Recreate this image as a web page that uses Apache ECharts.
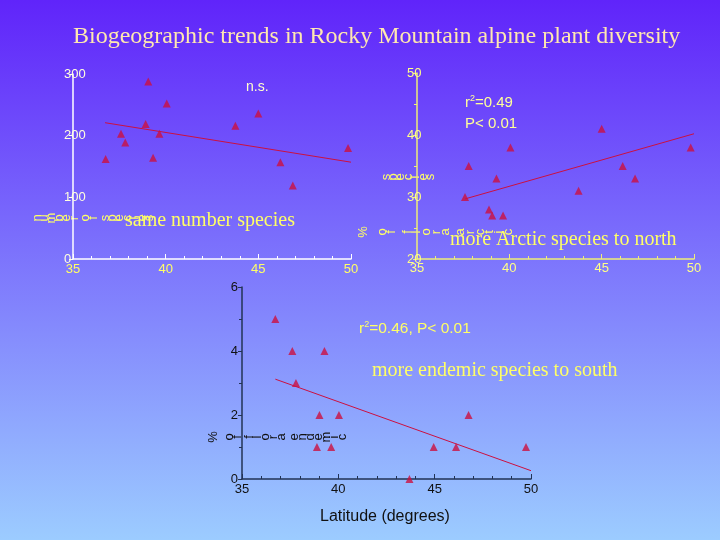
<!DOCTYPE html>
<html><head><meta charset="utf-8">
<script src="https://cdn.jsdelivr.net/npm/echarts@6/dist/echarts.min.js"></script>
<style>html,body{margin:0;padding:0;}#c{width:720px;height:540px;}</style>
</head><body><div id="c"></div>
<script>
// Panel 1: number of species vs latitude
const lat1 = [36.76, 37.59, 37.82, 39.06, 38.92, 39.32, 39.66, 40.06, 43.76, 45.0, 46.19, 46.86, 49.84];
const species1 = [162, 203, 189, 288, 219, 164, 203, 252, 216, 236, 157, 119, 180];
const fitLat1 = [36.73, 50];
const fitVal1 = [221, 157];
// Panel 2: % of flora arctic species vs latitude
const lat2 = [37.60, 37.80, 38.90, 39.07, 39.30, 39.66, 40.06, 43.75, 45.0, 46.14, 46.81, 49.82];
const arctic2 = [30, 35, 28, 27, 33, 27, 38, 31, 41, 35, 33, 38];
const fitLat2 = [37.61, 50];
const fitVal2 = [29.7, 40.2];
// Panel 3: % of flora endemic vs latitude
const lat3 = [36.73, 37.61, 37.80, 39.28, 39.02, 38.89, 39.63, 40.03, 43.69, 44.95, 46.11, 46.76, 49.74];
const endemic3 = [5, 4, 3, 4, 2, 1, 1, 2, 0, 1, 1, 2, 1];
const fitLat3 = [36.73, 50];
const fitVal3 = [3.12, 0.26];
// tick labels
const xTicks = [35, 40, 45, 50];
const yTicks1 = [0, 100, 200, 300];
const yTicks2 = [20, 30, 40, 50];
const yTicks3 = [0, 2, 4, 6];

const zip = (a, b) => a.map((v, i) => [v, b[i]]);
const RED = '#cc1040';
const FONT = '"Liberation Sans", Arial, sans-serif';
const SERIF = '"Liberation Serif", "Times New Roman", serif';

function xAx(gi, lineColor, labelColor, margin) {
  return {
    gridIndex: gi, type: 'value', min: xTicks[0], max: xTicks[xTicks.length - 1], interval: 5,
    axisLine: {show: true, onZero: false, lineStyle: {color: lineColor, width: 1.5}},
    axisTick: {show: true, inside: true, length: 5, lineStyle: {color: lineColor}},
    minorTick: {show: true, splitNumber: 5, length: 3, lineStyle: {color: lineColor}},
    splitLine: {show: false},
    axisLabel: {color: labelColor, fontFamily: FONT, fontSize: 13, margin: margin}
  };
}
function yAx(gi, ticks, lineColor, labelColor, align, margin, minor) {
  return {
    gridIndex: gi, type: 'value', min: ticks[0], max: ticks[ticks.length - 1], interval: ticks[1] - ticks[0],
    axisLine: {show: true, onZero: false, lineStyle: {color: lineColor, width: 1.5}},
    axisTick: {show: true, inside: false, length: 4, lineStyle: {color: lineColor}},
    minorTick: {show: minor, splitNumber: 2, length: 3, lineStyle: {color: lineColor}},
    splitLine: {show: false},
    axisLabel: {color: labelColor, fontFamily: FONT, fontSize: 13, align: align, margin: margin}
  };
}
function scat(i, data) {
  return {type: 'scatter', xAxisIndex: i, yAxisIndex: i, data: data, symbol: 'triangle', symbolSize: 8,
    itemStyle: {color: RED}, silent: true, z: 3};
}
function fit(i, data) {
  return {type: 'line', xAxisIndex: i, yAxisIndex: i, data: data, showSymbol: false, symbol: 'none',
    lineStyle: {color: RED, width: 1}, silent: true, z: 2};
}
// rotated-letter labels (each glyph turned on its side, laid out horizontally)
function rotLabel(str, x0, y, color, step) {
  const out = [];
  let x = x0;
  for (const ch of str) {
    if (ch === ' ') { x += step * 0.6; continue; }
    out.push({type: 'text', x: x, y: y, rotation: Math.PI / 2,
      style: {text: ch, fill: color, font: '13px ' + FONT, align: 'center', verticalAlign: 'middle'}});
    x += ch === '%' ? step * 1.4 : step;
  }
  return out;
}
function txt(text, x, y, color, font, align) {
  return {type: 'text', x: x, y: y, style: {text: text, fill: color, font: font, align: align || 'left', verticalAlign: 'middle'}};
}

const graphics = [].concat(
  [txt('Biogeographic trends in Rocky Mountain alpine plant diversity', 73, 37, '#ffe8b0', '24px ' + SERIF)],
  rotLabel('number of species', 37, 218, '#ffff66', 7.4),
  rotLabel('species', 386, 177, '#ffff66', 7.4),
  rotLabel('% of flora arctic', 363, 232, '#ffff66', 9.6),
  rotLabel('% of flora endemic', 213, 437, '#111111', 8.0),
  [
    txt('same number species', 125, 221, '#ffff66', '20px ' + SERIF),
    txt('more Arctic species to north', 450, 240, '#ffff66', '20px ' + SERIF),
    txt('more endemic species to south', 372, 371, '#ffff66', '20px ' + SERIF),
    txt('n.s.', 246, 87, '#ffffcc', '14px ' + FONT),
    {type: 'text', x: 465, y: 103, style: {rich: {s: {fontSize: 9, verticalAlign: 'top', padding: [0,0,8,0], fill: '#ffff99'}}, text: 'r{s|2}=0.49', fill: '#ffff99', font: '15px ' + FONT, verticalAlign: 'middle'}},
    txt('P< 0.01', 465, 124, '#ffff99', '15px ' + FONT),
    {type: 'text', x: 359, y: 329, style: {rich: {s: {fontSize: 9, verticalAlign: 'top', padding: [0,0,8,0], fill: '#ffff66'}}, text: 'r{s|2}=0.46, P< 0.01', fill: '#ffff66', font: '15.5px ' + FONT, verticalAlign: 'middle'}},
    txt('Latitude (degrees)', 320, 517, '#111111', '16px ' + FONT)
  ]
);

const chart = echarts.init(document.getElementById('c'), null, {renderer: 'canvas'});
chart.setOption({
  animation: false,
  backgroundColor: {type: 'linear', x: 0, y: 0, x2: 0, y2: 1,
    colorStops: [{offset: 0, color: '#6024fa'}, {offset: 1, color: '#9cccff'}]},
  grid: [
    {left: 73, top: 74, width: 278, height: 185},
    {left: 417, top: 73, width: 277, height: 186},
    {left: 242, top: 287, width: 289, height: 192}
  ],
  xAxis: [
    xAx(0, '#ffffff', '#ffff66', 4),
    xAx(1, '#eeee77', '#ffff88', 3),
    xAx(2, '#223355', '#111111', 4)
  ],
  yAxis: [
    yAx(0, yTicks1, '#ffffff', '#ffffdd', 'left', 9, false),
    yAx(1, yTicks2, '#eeee77', '#ffff88', 'left', 10, true),
    yAx(2, yTicks3, '#223355', '#111111', 'right', 4, true)
  ],
  series: [
    scat(0, zip(lat1, species1)), fit(0, zip(fitLat1, fitVal1)),
    scat(1, zip(lat2, arctic2)), fit(1, zip(fitLat2, fitVal2)),
    scat(2, zip(lat3, endemic3)), fit(2, zip(fitLat3, fitVal3))
  ],
  graphic: graphics
});
</script></body></html>
